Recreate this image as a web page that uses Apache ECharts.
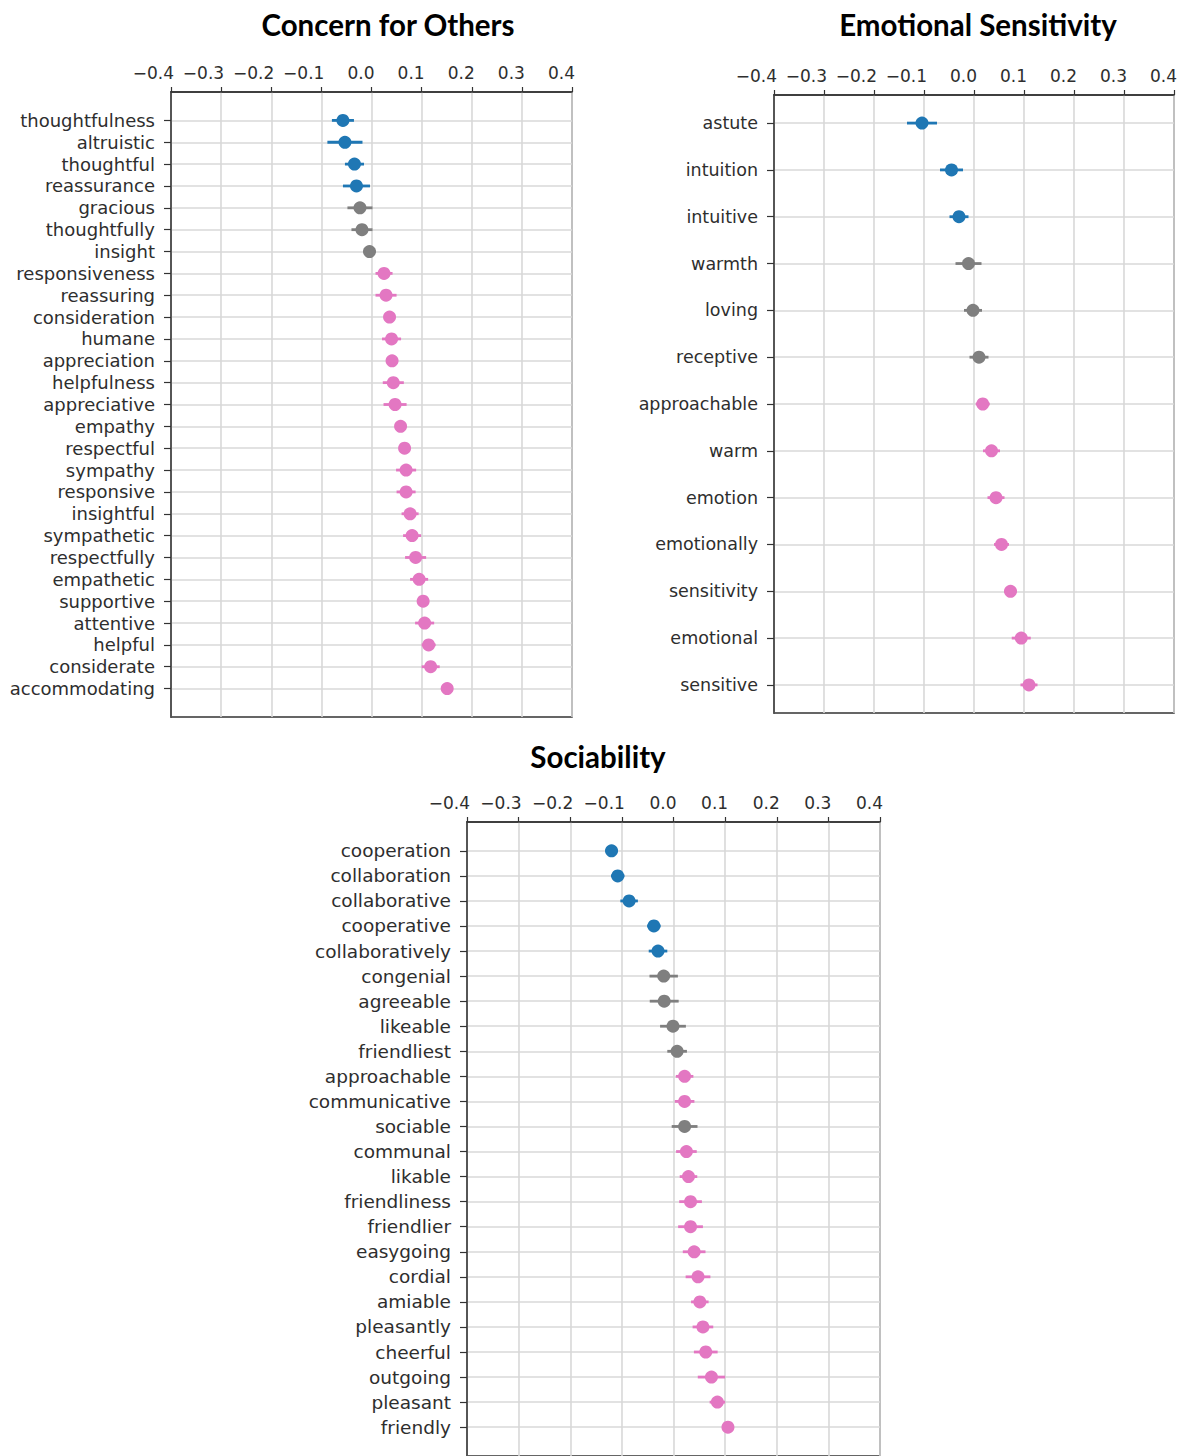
<!DOCTYPE html>
<html>
<head>
<meta charset="utf-8">
<script src="https://cdn.jsdelivr.net/npm/echarts@6/dist/echarts.min.js"></script>
<style>
  html, body { margin: 0; padding: 0; background: #ffffff; }
  #chart { width: 1180px; height: 1456px; }
</style>
</head>
<body>
<div id="chart"></div>
<script>
// Word-level association scores with error half-widths, one set per trait.
// Group letters: b = below zero (significant), g = not significant, p = above zero.
const concernWords = ['thoughtfulness','altruistic','thoughtful','reassurance','gracious','thoughtfully','insight','responsiveness','reassuring','consideration','humane','appreciation','helpfulness','appreciative','empathy','respectful','sympathy','responsive','insightful','sympathetic','respectfully','empathetic','supportive','attentive','helpful','considerate','accommodating'];
const concernMean = [-0.057,-0.053,-0.034,-0.030,-0.023,-0.019,-0.004,0.025,0.029,0.036,0.040,0.041,0.0435,0.047,0.058,0.066,0.069,0.069,0.077,0.081,0.088,0.095,0.103,0.106,0.114,0.118,0.151];
const concernErr = [0.022,0.035,0.019,0.027,0.025,0.021,0.012,0.017,0.021,0.010,0.019,0.012,0.021,0.023,0.010,0.010,0.020,0.019,0.017,0.018,0.021,0.018,0.010,0.019,0.014,0.018,0.008];
const concernGroup = 'bbbbgggpppppppppppppppppppp';

const emotionWords = ['astute','intuition','intuitive','warmth','loving','receptive','approachable','warm','emotion','emotionally','sensitivity','emotional','sensitive'];
const emotionMean = [-0.104,-0.045,-0.030,-0.011,-0.002,0.010,0.0175,0.035,0.044,0.055,0.073,0.0945,0.110];
const emotionErr = [0.030,0.023,0.019,0.026,0.018,0.019,0.014,0.017,0.017,0.015,0.0125,0.019,0.017];
const emotionGroup = 'bbbgggppppppp';

const socialWords = ['cooperation','collaboration','collaborative','cooperative','collaboratively','congenial','agreeable','likeable','friendliest','approachable','communicative','sociable','communal','likable','friendliness','friendlier','easygoing','cordial','amiable','pleasantly','cheerful','outgoing','pleasant','friendly'];
const socialMean = [-0.120,-0.108,-0.086,-0.038,-0.030,-0.019,-0.018,-0.001,0.007,0.0215,0.0215,0.0215,0.025,0.029,0.033,0.033,0.040,0.0475,0.051,0.057,0.0625,0.0735,0.085,0.1055];
const socialErr = [0.012,0.013,0.017,0.013,0.018,0.0275,0.028,0.025,0.019,0.017,0.019,0.025,0.020,0.017,0.022,0.024,0.022,0.024,0.017,0.020,0.023,0.0265,0.015,0.010];
const socialGroup = 'bbbbbggggppgpppppppppppp';

const xTicks = [-0.4, -0.3, -0.2, -0.1, 0.0, 0.1, 0.2, 0.3, 0.4];

const panelTitles = ['Concern for Others', 'Emotional Sensitivity', 'Sociability'];

const palette = { b: '#1f77b4', g: '#7f7f7f', p: '#e377c2' };
const ink = '#2e2e2e';
const frame = '#333333';
const gridColor = '#d8d8d8';
const labelFont = 'DejaVu Sans';

const panels = [
  { words: concernWords, mean: concernMean, err: concernErr, group: concernGroup, wordSize: 18,
    box: { left: 171, top: 92, width: 401, height: 625 }, title: { x: 388, y: 24 } },
  { words: emotionWords, mean: emotionMean, err: emotionErr, group: emotionGroup, wordSize: 17.5,
    box: { left: 774, top: 95, width: 402, height: 618 }, title: { x: 978, y: 24 } },
  { words: socialWords, mean: socialMean, err: socialErr, group: socialGroup, wordSize: 18.5,
    box: { left: 467, top: 822, width: 413, height: 635 }, title: { x: 598, y: 756 } }
];

function fmtTick(v) {
  const r = Math.round(v * 10) / 10;
  return (r < 0 ? '\u2212' : '') + Math.abs(r).toFixed(1);
}

const grid = [], xAxis = [], yAxis = [], series = [], graphic = [];

panels.forEach((pn, i) => {
  const n = pn.words.length;
  const idx = pn.words.map((_, k) => k);
  grid.push(Object.assign({
    show: true, borderColor: frame, borderWidth: 1.5, backgroundColor: 'transparent'
  }, pn.box));

  xAxis.push({
    type: 'value', gridIndex: i, position: 'top',
    min: xTicks[0], max: xTicks[xTicks.length - 1], interval: 0.1,
    axisLine: { show: true, onZero: false, lineStyle: { color: frame, width: 1.5 } },
    axisTick: { show: true, inside: false, length: 5, lineStyle: { color: frame, width: 1.2 } },
    axisLabel: {
      formatter: fmtTick, color: ink, fontFamily: labelFont, fontSize: 17,
      margin: 11, align: 'right', padding: [0, -3, 0, 0], showMinLabel: true, showMaxLabel: true
    },
    splitLine: { show: true, lineStyle: { color: gridColor, width: 1.6 } }
  });

  yAxis.push({
    type: 'value', gridIndex: i, inverse: true,
    min: -0.05 * (n - 1), max: 1.05 * (n - 1),
    axisLine: { show: true, onZero: false, lineStyle: { color: frame, width: 1.5 } },
    axisTick: { show: true, inside: false, length: 7, customValues: idx,
      lineStyle: { color: frame, width: 1.2 } },
    axisLabel: {
      customValues: idx, formatter: v => pn.words[Math.round(v)],
      color: ink, fontFamily: labelFont, fontSize: pn.wordSize, margin: 16
    },
    splitLine: { show: true, lineStyle: { color: gridColor, width: 1.6 } }
  });

  // horizontal error bars
  series.push({
    type: 'custom', xAxisIndex: i, yAxisIndex: i, z: 3, silent: true,
    data: pn.mean.map((m, k) => [m, k, m - pn.err[k], m + pn.err[k]]),
    encode: { x: [0, 2, 3], y: 1 },
    renderItem: (params, api) => {
      const k = params.dataIndex;
      const a = api.coord([api.value(2), api.value(1)]);
      const b = api.coord([api.value(3), api.value(1)]);
      return {
        type: 'line',
        shape: { x1: a[0], y1: a[1], x2: b[0], y2: b[1] },
        style: { stroke: palette[pn.group[k]], lineWidth: 2.8 }
      };
    }
  });

  // point estimates
  series.push({
    type: 'scatter', xAxisIndex: i, yAxisIndex: i, z: 4, silent: true,
    symbol: 'circle', symbolSize: 13,
    data: pn.mean.map((m, k) => ({ value: [m, k], itemStyle: { color: palette[pn.group[k]], opacity: 1 } }))
  });

  graphic.push({
    type: 'text', x: pn.title.x, y: pn.title.y,
    style: {
      text: panelTitles[i], fill: '#000000', font: 'bold 29.5px Lato',
      textAlign: 'center', textVerticalAlign: 'middle'
    }
  });
});

const chart = echarts.init(document.getElementById('chart'), null, { renderer: 'svg' });
chart.setOption({
  animation: false,
  backgroundColor: '#ffffff',
  grid, xAxis, yAxis, series, graphic
});
</script>
</body>
</html>
